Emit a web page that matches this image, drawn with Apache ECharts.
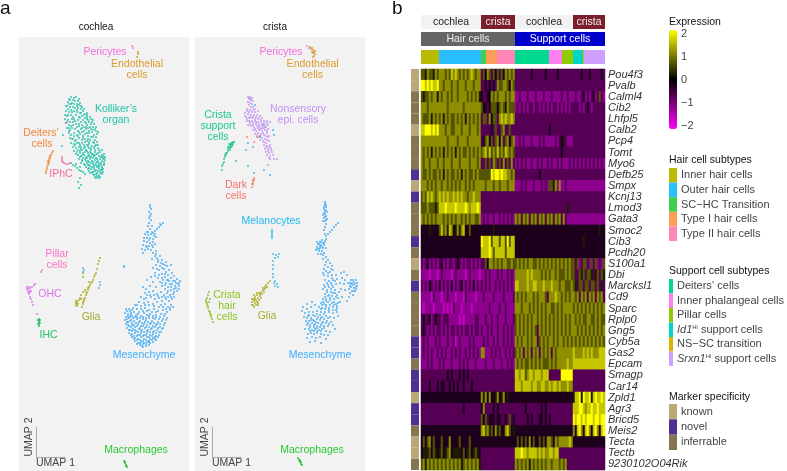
<!DOCTYPE html>
<html><head><meta charset="utf-8">
<script src="https://cdn.jsdelivr.net/npm/echarts@6/dist/echarts.min.js"></script>
<style>html,body{margin:0;background:#fff}#c{width:787px;height:471px}</style></head>
<body><div id="c"></div>
<script>
/* ---------- heatmap data ---------- */
const genes=["Pou4f3","Pvalb","Calml4","Cib2","Lhfpl5","Calb2","Pcp4","Tomt","Myo6","Defb25","Smpx","Kcnj13","Lmod3","Gata3","Smoc2","Cib3","Pcdh20","S100a1","Dbi","Marcksl1","Cd9","Sparc","Rplp0","Gng5","Cyb5a","Gas2","Epcam","Smagp","Car14","Zpld1","Agr3","Bricd5","Meis2","Tecta","Tectb","9230102O04Rik"];
const geneMarker=["known","known","inferrable","inferrable","inferrable","known","inferrable","inferrable","inferrable","novel","known","novel","inferrable","inferrable","inferrable","novel","inferrable","known","inferrable","novel","inferrable","inferrable","inferrable","inferrable","novel","novel","inferrable","novel","novel","known","novel","novel","inferrable","known","known","inferrable"];
// expression per cell column, one digit per column, 0 = -2 ... 9 = +2
const expressionRows=[
"665766576 777676878767676787677 36476364636476767 33333333433333343333343333333 3333433343333343",
"998989889 776777677677767776777 33434343766776476 33333333333333333333333333333 3333333333333333",
"656676775 767767677677776767675 43344767677767677 22322232223222322232222322322 2322342323423632",
"777677777 777767777777677777777 64434666467657666 23232323323323232323323232323 3332323432333333",
"766675767 675767667676757676767 36637466378787787 33333333333333333333333333333 3333333333333333",
"889998989 777677667776777677767 33333436336733633 33333333333333333433333333333 3333333333333333",
"777777777 777767777677776777777 34674636747367467 22323222322232322222323453222 3333333333333333",
"767675767 675767675767667676767 67868676867687676 33333333333333333333333433333 3333333333333333",
"767767776 776777677767777677767 33636376363736373 23232322322323223232232322232 3232323232323232",
"766767667 675767667675767667676 66666989989887767 33333333333343333333333333333 3333333333333333",
"777676767 767767676767767676777 77677767767776777 22232322232223232665727223222 2222222222222222",
"676878767 878787787878776778777 33333333333333333 33333333333333333333333333333 3333333333333333",
"666766656 888988889888898788898 33333333333333333 33333333333333333333333333533 3333333333333333",
"767676767 776767676776767677667 23232232232323232 76737673767376737673767373222 2222222222222222",
"444454444 686758745757844644444 44444454444444444 44444444444444444444444444444 4444444444444544",
"444444444 444444444444444444444 98889688868869688 44444444444444444444444444444 4444454444444444",
"444444444 444444444444444444444 88889868888868888 44444444444444444444444444444 4444444444444444",
"323423232 342323323432323323232 33647767676776676 67676767766767676767676767676 6362366326362326",
"222212221 232222123222212322221 22323222323223232 77777787877776767677676667676 6336563665356365",
"323243232 423232423234232324232 32323223232323232 88777787788777877787776776667 6536636636636353",
"222221322 212232221222132222122 23222232222322223 76767677767677763777877676767 7673767376737673",
"212222122 221212132221222212222 22223222232232222 77767776767676767766767677777 6767676767676767",
"343342343 323332222212122222332 22322322322232223 67676767677676767676767676767 7676766776676766",
"343232323 323232332323233232332 32232322322323232 67676767676376767676767676767 7767676767676767",
"232322232 322232231232222323222 23232232322323232 76767767677367676776767767676 7676767676767676",
"232323223 232322323232232323232 77222323232232323 67673767376737676737677777777 8777787878777888",
"222323222 323222322232323222322 22322232223223232 76767667676767666767677777877 8888888888888888",
"333333333 333343433343434333333 33333333333333333 88788678878887888333333999999 3333333333333333",
"333343334 344334343433433343333 33333333333333333 88878888788778877878878777877 3333333333333333",
"444444444 444444444444444444444 75747445745745444 44444444444444444444444444444 5889598895898898",
"333333333 333333333333433333333 47333343433333333 33333433333334343333333333333 8889987889889888",
"333333333 333333333333333333333 64634443443343634 33333343433344343433333333333 9899898999899899",
"444444444 444444444444444444444 78675647564478645 44444444444444444444444444444 7489748974897489",
"464674644 464447444464444644444 44444444444444444 46464647464464647764767777787 4444444444444444",
"455564654 564567455554645645654 33333333333333333 88898878888787877887883333333 3333333333333333",
"675767676 767676767675676767675 33333333333333333 76767675767676767767776767333 3333333333333333"];
const columnCount=92;
const tissueNames=["cochlea","crista","cochlea","crista"];
const tissueCells=[30,17,29,16];
const classNames=["Hair cells","Support cells"];
const classCells=[47,45];
const hairSubtypes=["Inner hair cells","Outer hair cells","SC\u2212HC Transition","Type I hair cells","Type II hair cells"];
const hairSubtypeCells=[9,21,2.5,5.5,9];
const supportSubtypes=["Deiters\u2019 cells","Inner phalangeal cells","Pillar cells","Id1Hi support cells","NS\u2212SC transition","Srxn1Hi support cells"];
const supportSubtypeCells=[17,6.5,5.5,5,0.5,10.5];
const markerKinds=["known","novel","inferrable"];

/* ---------- UMAP clusters, flat x,y pairs ---------- */
const cochleaKolliker=[50,62,52,60,55,61,57,60,60,62,49,65,51,63,54,63,56,64,59,64,61,66,50,67,53,66,55,67,58,67,60,68,62,69,48,69,51,70,54,70,56,71,59,71,62,72,49,72,52,73,47,74,50,75,55,74,58,75,61,76,64,74,66,77,68,78,71,80,46,78,48,79,52,78,54,80,57,78,60,80,63,79,66,81,69,83,72,82,46,82,49,83,51,85,53,82,56,84,59,83,62,85,64,83,67,86,70,85,73,85,75,87,47,86,50,88,54,88,57,87,60,89,63,88,65,90,68,88,71,90,74,90,76,92,48,91,51,93,53,91,56,92,59,94,62,92,65,94,67,92,70,94,73,95,77,94,78,97,50,96,52,98,55,96,58,98,61,97,64,99,66,97,69,99,72,100,75,98,77,100,51,101,54,102,57,103,60,101,63,103,66,102,68,104,71,103,74,105,76,103,78,105,52,106,55,107,58,106,61,108,63,106,65,108,68,108,70,107,73,109,77,108,54,110,57,111,60,110,62,112,65,111,67,113,70,111,72,113,75,111,79,111,55,114,58,115,61,114,64,116,66,115,69,116,71,115,74,117,76,115,78,117,81,115,59,118,62,119,65,118,67,120,70,118,72,120,75,119,77,121,80,119,83,118,85,117,60,122,63,123,66,122,69,124,71,122,73,124,76,123,79,124,81,122,84,122,86,120,62,126,65,127,68,126,70,128,72,126,75,128,77,126,80,128,82,126,85,125,86,123,67,130,70,131,73,130,75,132,78,130,80,132,83,130,85,128,84,132,70,134,73,135,76,134,78,136,81,135,83,133,75,138,78,139,80,138,83,137,77,141,80,141,52,126,54,128,56,129,58,131,60,133,62,134,64,135,61,130,57,127,66,137,59,145,60,151,61,141,44,98,43,109,62,148,68,82,70,96,67,90];
const cochleaKollikerMore=[47,69,58,69,52,67,63,70,65,72,49,78,53,75,58,73,62,76,65,78,68,76,48,85,55,82,61,81,68,80,74,83,50,91,54,85,60,87,66,85,72,87,77,90,52,89,58,90,63,91,69,91,74,93,50,94,55,99,60,95,63,95,68,96,72,92,79,95,53,102,59,99,64,101,69,102,74,100,56,104,60,106,66,105,70,105,75,106,79,108,56,108,62,110,66,110,69,109,72,111,76,109,59,113,63,113,68,114,72,116,76,113,80,113,83,113,57,117,61,116,64,118,69,119,73,118,76,118,79,116,82,120,84,119,61,120,64,121,68,121,71,120,74,121,78,122,83,120,85,121,63,124,67,124,70,125,74,125,78,125,80,126,83,124,85,127,66,128,69,128,71,129,74,127,77,128,79,129,82,128,83,131,69,132,72,132,75,130,77,133,80,130,82,133,71,136,74,137,77,137,79,134,82,136,84,135,74,135,76,140,79,140,81,140];
const cochleaDeiters=[34,114,33,116,32,118,31,120,30,122,30,124,29,126,29,128,28,130,28,132,27,134,27,136,31,121,31,119,30,126,29,124];
const cochleaIPhC=[43,120,43,122,43,124,44,125,45,126,47,127,49,127,51,126,47,86];
const cochleaPericytes=[113,9,114,11];
const cochleaEndothelial=[119,15,119,17,118,20];
const cochleaMesenchyme=[131,168,132,172,130,175,131,179,132,183,130,186,133,189,131,192,129,195,144,186,142,188,140,190,138,192,136,194,134,196,141,187,126,197,129,198,132,197,135,199,128,201,131,201,134,202,137,200,125,204,128,205,131,206,134,205,124,208,127,209,130,209,133,208,136,207,123,212,126,213,129,212,124,216,132,213,134,216,137,214,136,219,138,221,141,219,133,222,139,225,143,223,137,228,141,229,144,227,147,225,134,231,140,233,145,232,148,229,152,228,136,236,143,237,147,235,150,233,153,236,132,240,139,241,146,240,149,238,152,241,155,239,158,242,161,244,159,247,156,244,134,245,141,245,144,243,147,246,150,244,153,247,156,249,160,249,128,243,124,250,127,252,131,249,137,250,143,249,146,252,149,250,152,253,155,252,158,254,126,256,130,255,134,254,138,257,142,255,145,258,148,256,151,258,154,257,122,260,127,261,132,260,136,262,140,261,143,264,147,262,150,264,153,262,120,265,125,266,129,265,134,267,138,265,142,268,146,267,149,270,152,268,116,268,110,272,113,273,108,274,106,276,109,277,112,276,115,275,118,272,122,272,126,271,130,273,135,272,139,274,144,273,148,275,151,273,107,280,110,281,113,279,116,280,119,277,122,279,125,276,128,278,131,277,134,279,137,278,141,280,145,279,148,281,106,283,109,285,112,283,115,284,118,282,121,284,124,282,127,283,130,281,133,284,136,282,139,285,143,284,146,286,107,287,110,289,113,288,116,290,119,287,122,289,125,287,128,288,131,287,134,289,137,288,141,290,144,291,108,291,111,293,114,292,117,294,120,292,123,293,126,291,129,293,132,292,135,294,138,293,142,295,110,296,113,297,116,296,119,298,122,296,125,298,128,296,131,298,134,297,137,299,140,298,113,300,116,301,119,302,122,300,125,302,128,300,131,302,134,301,137,303,116,304,119,306,122,305,125,306,128,305,131,306,134,305,121,308,124,310,127,309,130,308];
const cochleaMesenchymeMore=[107,272,111,274,114,271,109,279,112,278,117,278,120,275,124,274,128,274,133,275,137,275,142,277,146,277,108,282,111,280,114,281,118,280,121,281,124,280,127,281,130,279,134,281,137,280,140,282,144,282,147,283,108,285,111,284,113,286,117,286,120,285,123,286,126,285,129,285,132,286,135,286,138,287,141,287,145,288,109,288,112,290,115,288,118,289,121,291,124,289,127,290,130,290,133,291,136,290,139,291,143,292,110,293,113,294,116,293,119,295,122,294,125,295,128,294,131,295,134,295,137,296,140,295,112,298,115,299,118,299,121,298,124,299,127,298,130,300,133,299,136,300,139,300,115,302,118,303,121,303,124,304,127,303,130,304,133,303,136,302,118,307,121,306,124,307,127,307,130,305,123,309,125,262,128,258,131,258,135,258,139,259,143,260,146,260,149,260,152,260,155,260,118,268,122,269,126,268,130,268,135,269,140,270,144,270,147,272,151,271,154,270,148,243,151,247,154,244,157,246,160,246,157,251,160,252,155,255,152,250,149,254,146,248,143,246,143,241,140,238,146,237,149,243,146,228,143,231,138,232,136,239,142,226,139,223,137,217,134,210,128,210,125,201,130,203,133,195,136,197,128,195,131,170,130,181,132,177,129,189];
const cochleaGlia=[81,221,80,224,79,227,78,232,77,236,76,238,75,240,74,243,72,246,71,248,70,250,69,253,68,256,67,258,66,261,65,264,64,267,63,270,66,253,64,255,62,258,61,261,60,263,58,264,57,266,57,268,58,269,59,267,64,236,64,240,70,245,62,262,73,245,69,251,67,255,65,262,64,265,58,266,57,264];
const cochleaOHC=[8,250,9,252,9,255,10,257,11,260,12,262,13,265,14,268,15,248,16,247,12,254,11,251,13,250,18,277,8,252,10,254,10,250,11,255];
const cochleaIHC=[19,283,20,282,20,285,21,286,19,287,20,289,20,284,20,287,21,283];
const cochleaPillar=[23,233,22,235];
const cochleaMacrophages=[105,424,106,426,107,428,108,430,106,425,107,429];
const cochleaStray=[64,231,65,233,64,235,81,245,81,248,80,251,105,229,105,230];

const cristaNonsensory=[53,60,55,60,57,61,54,62,56,63,58,64,53,65,55,66,57,67,54,68,56,70,58,70,60,72,52,74,55,73,57,75,60,75,63,74,50,76,53,77,56,78,59,78,62,78,65,79,51,80,54,81,57,81,60,82,63,82,66,83,69,84,72,84,75,85,52,84,55,85,58,86,61,85,64,87,67,87,70,88,73,88,53,88,56,89,59,90,62,89,65,91,68,91,71,90,58,93,61,94,64,93,67,94,70,93,73,92,60,97,63,96,66,97,69,98,72,96,63,100,67,101,70,102,73,100,68,104,71,106,74,104,69,108,72,109,75,108,70,112,73,112,76,111,71,115,74,116,77,115,72,118,75,119,78,118,75,122,79,122,82,122,73,128];
const cristaNonsensoryMore=[54,61,56,62,52,72,54,75,58,73,50,79,52,82,55,80,58,80,61,80,64,81,67,81,54,84,57,84,60,84,63,85,66,85,69,86,72,86,55,87,58,88,61,87,64,89,67,89,70,90,60,92,63,91,66,92,69,91,72,94,62,98,65,99,68,96,71,99,74,99,65,103,69,105,72,103,71,110,74,110,73,114,76,113,74,121];
const cristaSupport=[33,112,34,110,35,111,36,108,37,106,38,105,39,105,34,107,36,110,35,113,37,109,33,114,32,116,31,118,30,120,29,122,29,125,28,127,27,129,27,133,41,124,35,108,37,108,33,110,38,107,36,106,31,116,30,118];
const cristaDark=[59,141,58,143,58,145,57,147,57,150,52,100,59,105,62,100,65,99,58,147,59,143];
const cristaPericytes=[112,9,114,11];
const cristaEndothelial=[115,10,117,11,118,13,117,15,119,15,120,17,119,19,118,20,116,12,118,16,120,14];
const cristaMelanocytes=[77,195,77,197,77,199,77,201,77,193];
const cristaBlue=[60,68,78,93,79,98,53,106,51,113,58,110,53,129,59,136,75,138,69,133,78,217,81,218,84,217,83,220,80,221,78,224,78,228,78,232,78,237,78,240,80,244,79,246,82,247,83,250,80,249,65,100,68,88];
const cristaGlia=[75,244,73,246,71,248,72,250,70,252,68,253,66,255,69,255,64,256,67,257,62,258,65,259,60,260,63,261,66,261,58,262,61,263,64,263,57,265,60,266,63,266,58,268,61,268,59,270,62,256,57,268,59,264,62,265,60,262,65,257,68,251,70,250,59,258,57,262,63,268];
const cristaHair=[14,255,13,258,12,261,11,263,11,265,12,268,13,271,14,274,15,277,16,280,17,282,18,285,15,262,14,265,12,266,13,269,15,275,16,278];
const cristaMacrophages=[103,421,104,423,105,425,106,427,107,428,105,423,106,425];
const cristaMesenchyme=[130,165,130,168,131,170,129,172,130,174,132,175,130,177,128,178,131,179,129,181,132,182,130,184,131,187,130,190,143,186,141,188,139,190,137,193,135,195,133,197,131,199,129,193,130,197,131,202,127,203,130,204,125,205,128,206,123,207,126,208,129,208,122,210,125,211,128,211,131,211,121,213,124,214,127,214,123,217,126,217,129,216,131,220,128,222,133,223,135,226,130,228,133,230,137,229,131,234,135,235,138,233,129,238,133,239,137,238,141,238,130,243,134,244,138,243,142,242,129,248,133,248,137,248,141,247,146,236,149,235,152,238,147,241,150,243,145,246,149,247,153,246,156,243,159,245,161,243,162,246,158,248,156,250,159,251,161,250,160,254,157,254,155,256,158,258,154,260,150,253,146,252,152,264,147,260,128,252,132,253,136,252,140,253,144,255,130,257,134,258,138,256,142,258,128,262,131,262,135,261,139,262,143,261,126,266,129,267,133,265,137,266,141,267,145,265,124,270,127,271,131,270,134,271,138,270,142,271,112,267,117,265,108,270,112,272,116,270,120,268,107,274,110,276,114,275,118,275,122,274,126,275,130,275,134,275,138,276,142,275,109,280,113,279,116,281,120,279,123,280,127,280,131,279,135,280,139,281,143,279,111,284,114,284,118,283,121,285,125,283,128,285,132,284,136,285,112,288,115,288,119,288,122,289,126,288,129,289,133,289,138,288,110,292,114,292,117,293,120,292,124,293,127,292,131,294,140,292,113,297,116,296,119,297,122,296,126,297,129,298,133,298,112,301,117,300,121,301,125,300,131,302,115,305,120,304,135,295,126,306];
const cristaMesenchymeMore=[130,166,131,168,129,170,131,173,129,176,130,180,131,183,128,184,122,205,124,207,126,205,122,212,125,209,127,210,124,212,129,206,128,218,131,225,129,232,136,232,128,236,133,236,137,241,132,246,136,246,140,244,155,246,158,243,160,247,157,246,155,249,162,249,159,254,156,247,161,252,154,252,130,250,134,250,138,250,132,255,136,255,140,256,130,260,133,259,137,259,141,260,128,265,131,264,135,263,139,265,143,266,127,268,131,268,135,268,139,268,142,269,126,272,130,272,134,273,138,273,141,273,114,278,118,278,122,277,125,278,129,277,112,281,116,283,119,284,122,282,126,281,129,282,133,281,113,286,117,286,120,287,123,286,127,286,131,286,134,287,115,290,119,290,122,291,125,290,129,291,115,294,119,294,122,294,126,294];
const cochlea={k:cochleaKolliker.concat(cochleaKollikerMore),m:cochleaMesenchyme.concat(cochleaMesenchymeMore)};
const crista={n:cristaNonsensory.concat(cristaNonsensoryMore),m:cristaMesenchyme.concat(cristaMesenchymeMore)};

const clusters=[
 ["Kolliker",0,cochlea.k,"#17bfa6"],["Deiters",0,cochleaDeiters,"#ee8a35"],["IPhC",0,cochleaIPhC,"#ec6f9c"],["Pericytes",0,cochleaPericytes,"#f76fe0"],["Endothelial",0,cochleaEndothelial,"#d8941c"],["Mesenchyme",0,cochlea.m,"#3aa8f5"],["Glia",0,cochleaGlia,"#a3a614"],["OHC",0,cochleaOHC,"#d96ef0"],["IHC",0,cochleaIHC,"#14bb5c"],["Pillar",0,cochleaPillar,"#f76fc4"],["Macrophages",0,cochleaMacrophages,"#12b82a"],["Stray",0,cochleaStray,"#3ab8d8"],
 ["Nonsensory",1,crista.n,"#c08ff5"],["Support",1,cristaSupport,"#18c48a"],["Dark",1,cristaDark,"#f8736b"],["Pericytes",1,cristaPericytes,"#f76fe0"],["Endothelial",1,cristaEndothelial,"#d8941c"],["Melanocytes",1,cristaMelanocytes,"#1fb6f0"],["Blue",1,cristaBlue,"#35b0f5"],["Glia",1,cristaGlia,"#a3a614"],["Hair",1,cristaHair,"#84bc14"],["Macrophages",1,cristaMacrophages,"#12b82a"],["Mesenchyme",1,crista.m,"#3aa8f5"]];

/* ---------- styles ---------- */
const FONT="Liberation Sans";
const tissueColors=["#f2f2f2","#7a1f2b","#f2f2f2","#7a1f2b"];
const tissueText=["#222","#eee","#222","#eee"];
const classColors=["#666666","#0000cd"];
const hairColors=["#b8bb00","#29bffc","#3ecf4e","#ff9c58","#ff86b8"];
const supportColors=["#00d98e","#ff7ff0","#8fcc00","#00d6c8","#e0b400","#cfa0ff"];
const markerColors={known:"#b9a878",novel:"#4f2f8f",inferrable:"#857650"};

const grids=[],xAxes=[],yAxes=[],series=[],graphic=[];
function addGrid(left,top,width,height,x,y,bg){
  grids.push({left,top,width,height,show:!!bg,backgroundColor:bg||"transparent",borderWidth:0});
  const i=grids.length-1;
  xAxes.push(Object.assign({gridIndex:i,show:false},x));
  yAxes.push(Object.assign({gridIndex:i,show:false},y));
  return i;
}
/* UMAP panels */
const panels=[addGrid(19,37,170,434,{type:"value",min:0,max:170},{type:"value",min:0,max:434,inverse:true},"#f2f2f2"),
              addGrid(195,37,170,434,{type:"value",min:0,max:170},{type:"value",min:0,max:434,inverse:true},"#f2f2f2")];
clusters.forEach(c=>{
  const d=[];for(let i=0;i<c[2].length;i+=2)d.push([c[2][i],c[2][i+1]]);
  series.push({type:"scatter",name:c[0],xAxisIndex:panels[c[1]],yAxisIndex:panels[c[1]],data:d,symbolSize:2.2,itemStyle:{color:c[3]},silent:true});
});
/* stacked annotation tracks */
function track(top,names,cells,colors,textColors){
  const g=addGrid(421,top,184,14,{type:"value",min:0,max:columnCount},{type:"category",data:[""]});
  names.forEach((n,i)=>series.push({type:"bar",stack:"t"+g,xAxisIndex:g,yAxisIndex:g,barWidth:"100%",data:[cells[i]],silent:true,itemStyle:{color:colors[i]},
    label:textColors?{show:true,position:"inside",formatter:n,color:textColors[i],fontFamily:FONT,fontSize:10.5}:{show:false}}));
}
track(15,tissueNames,tissueCells,tissueColors,tissueText);
track(32,classNames,classCells,classColors,["#eee","#fff"]);
track(50,hairSubtypes.concat(supportSubtypes),hairSubtypeCells.concat(supportSubtypeCells),hairColors.concat(supportColors));
/* marker strip */
const strip=addGrid(411,69,8,401,{type:"value",min:0,max:1},{type:"category",data:genes,inverse:true});
series.push({type:"bar",xAxisIndex:strip,yAxisIndex:strip,barWidth:"100%",silent:true,data:genes.map((g,i)=>({value:1,itemStyle:{color:markerColors[geneMarker[i]]}}))});
/* heatmap */
const columns=[];for(let i=0;i<columnCount;i++)columns.push(String(i));
const hm=addGrid(421,69,184,401,{type:"category",data:columns},{type:"category",data:genes,inverse:true,show:true,position:"right",
  axisLine:{show:false},axisTick:{show:false},axisLabel:{interval:0,margin:3,fontFamily:FONT,fontSize:11,fontStyle:"italic",color:"#333"}},"#550055");
const cells=[];
expressionRows.forEach((r,y)=>{r.replace(/ /g,"").split("").forEach((c,x)=>cells.push([x,y,-2+4*(+c)/9]));});
const heatIndex=series.length;
series.push({type:"heatmap",xAxisIndex:hm,yAxisIndex:hm,data:cells,silent:true,progressive:0,emphasis:{disabled:true}});
/* legend ticks for the colour bar */
addGrid(669,34,8,92,{type:"value",min:0,max:1},{type:"value",min:-2,max:2,interval:1,show:true,position:"right",
  axisLine:{show:false},axisTick:{show:false},splitLine:{show:false},axisLabel:{margin:4,fontFamily:FONT,fontSize:11,color:"#444",formatter:v=>v<0?"\u2212"+(-v):String(v)}});
/* legend swatches */
function swatches(top,height,names,colors){
  const g=addGrid(669,top,8,height,{type:"value",min:0,max:1},{type:"category",data:names,inverse:true,show:true,position:"right",
    axisLine:{show:false},axisTick:{show:false},axisLabel:{interval:0,margin:4,fontFamily:FONT,fontSize:11,color:"#444",
      formatter:v=>{
        const m=v.match(/^(Id1|Srxn1)Hi (.*)$/);
        return m?"{i|"+m[1]+"}{s|Hi} "+m[2]:v;
      },
      rich:{i:{fontStyle:"italic",fontFamily:FONT,fontSize:11,color:"#444"},s:{fontSize:6,fontFamily:FONT,color:"#444",verticalAlign:"top",padding:[0,0,4,0]}}}});
  series.push({type:"bar",xAxisIndex:g,yAxisIndex:g,barWidth:"100%",silent:true,data:colors.map(c=>({value:1,itemStyle:{color:c}}))});
}
swatches(168,73,hairSubtypes,hairColors);
swatches(279,87,supportSubtypes,supportColors);
swatches(404,46,markerKinds,markerKinds.map(k=>markerColors[k]));

/* text */
function txt(s,x,y,color,size){graphic.push({type:"text",x,y,z:20,silent:true,style:{text:s,fill:color,font:(size||10.5)+"px \""+FONT+"\"",align:"center",verticalAlign:"middle"}});}
function left(s,x,y,color,size){graphic.push({type:"text",x,y,z:20,silent:true,style:{text:s,fill:color,font:size+"px \""+FONT+"\"",align:"left",verticalAlign:"middle"}});}
left("a",0,9,"#111",19);left("b",392,9,"#111",19);
txt("cochlea",96,27,"#111",10);txt("crista",275,27,"#111",10);
[["Pericytes",105,52,"#f76de0"],["Endothelial",137,64,"#dd9a2a"],["cells",137,75,"#dd9a2a"],["Kolliker\u2019s",116,109,"#1fc4a8"],["organ",116,120,"#1fc4a8"],["Deiters\u2019",41,133,"#f0883a"],["cells",42,144,"#f0883a"],["IPhC",61,174,"#f66b9f"],["Pillar",57,254,"#ff70c8"],["cells",57,265.5,"#ff70c8"],["OHC",50,294,"#e070f0"],["IHC",48.5,335,"#20c464"],["Glia",91,317,"#a8ab2a"],["Mesenchyme",144,355,"#40aeff"],["Macrophages",136,450,"#28c830"],
 ["Pericytes",281,52,"#f76de0"],["Endothelial",312.6,64,"#dd9a2a"],["cells",312.6,75,"#dd9a2a"],["Nonsensory",298,109,"#c58ff8"],["epi. cells",298,120,"#c58ff8"],["Crista",218,115.5,"#1dc88e"],["support",218,126.5,"#1dc88e"],["cells",218,137,"#1dc88e"],["Dark",236,185,"#f8736b"],["cells",236,196,"#f8736b"],["Melanocytes",271,221,"#22b8f2"],["Crista",227,295,"#8cc420"],["hair",227,306,"#8cc420"],["cells",227,317,"#8cc420"],["Glia",267,316,"#a8ab2a"],["Mesenchyme",320,355,"#40aeff"],["Macrophages",312,450,"#28c830"]
].forEach(t=>txt(t[0],t[1],t[2],t[3]));
[19,195].forEach(p=>{
  const ax=p+17;
  graphic.push({type:"line",z:20,silent:true,shape:{x1:ax+.5,y1:427,x2:ax+.5,y2:457},style:{stroke:"#aaa",lineWidth:1}});
  graphic.push({type:"line",z:20,silent:true,shape:{x1:ax,y1:457.5,x2:ax+30,y2:457.5},style:{stroke:"#aaa",lineWidth:1}});
  left("UMAP 1",ax,463,"#444",10.5);
  graphic.push({type:"text",x:ax-7,y:437,z:20,rotation:Math.PI/2,silent:true,style:{text:"UMAP 2",fill:"#444",font:"10.5px \""+FONT+"\"",align:"center",verticalAlign:"middle"}});
});
left("Expression",669,22,"#111",10.5);
left("Hair cell subtypes",669,160,"#111",10.5);
left("Support cell subtypes",669,271,"#111",10.5);
left("Marker specificity",669,397,"#111",10.5);

const chart=echarts.init(document.getElementById("c"),null,{renderer:"canvas"});
chart.setOption({animation:false,backgroundColor:"#fff",textStyle:{fontFamily:FONT},
  grid:grids,xAxis:xAxes,yAxis:yAxes,series,graphic:{elements:graphic},tooltip:{show:false},
  visualMap:{type:"continuous",seriesIndex:heatIndex,min:-2,max:2,inRange:{color:["#ff00ff","#000000","#ffff00"]},left:669,top:30,itemWidth:8,itemHeight:99,padding:0,calculable:false,text:null,showLabel:false,hoverLink:false}});
</script></body></html>
